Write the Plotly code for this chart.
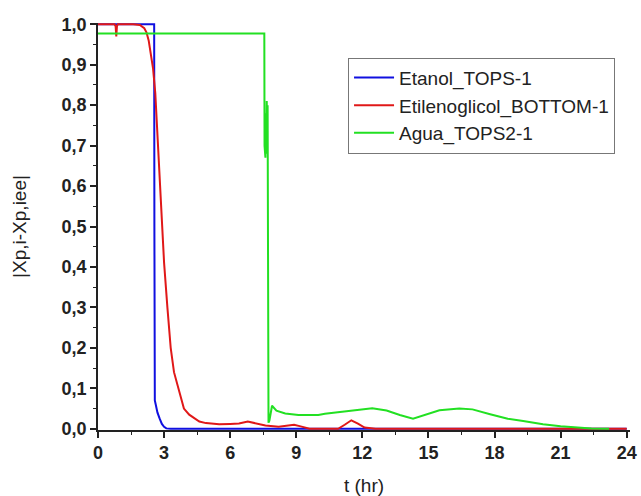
import plotly.graph_objects as go

# Etanol_TOPS-1 (blue)
t_etanol = [0.0, 2.5, 2.55, 2.56, 2.58, 2.62, 2.7, 2.8, 2.9, 3.0, 3.1, 3.3, 24.0]
x_etanol = [1.0, 1.0, 1.0, 0.50, 0.07, 0.06, 0.04, 0.025, 0.012, 0.005, 0.001, 0.0, 0.0]

# Etilenoglicol_BOTTOM-1 (red)
t_etileno = [0.0, 0.75, 0.8, 0.83, 0.86, 0.9, 1.6, 1.9, 2.1, 2.2, 2.3, 2.4, 2.5,
             2.6, 2.75, 2.9, 3.0, 3.15, 3.3, 3.45, 3.64, 3.9, 4.14, 4.6, 4.9,
             5.5, 6.0, 6.4, 6.8, 7.2, 7.6, 8.2, 8.9, 9.2, 9.6, 10.0, 10.9,
             11.2, 11.5, 11.8, 12.1, 12.6, 24.0]
x_etileno = [1.0, 1.0, 0.995, 0.97, 0.995, 1.0, 1.0, 0.998, 0.99, 0.98, 0.96, 0.93, 0.89,
             0.83, 0.68, 0.52, 0.41, 0.30, 0.20, 0.14, 0.10, 0.05, 0.035, 0.018, 0.014,
             0.011, 0.012, 0.013, 0.018, 0.013, 0.008, 0.005, 0.01, 0.006, 0.0, 0.0, 0.0,
             0.01, 0.021, 0.013, 0.003, 0.0, 0.0]

# Agua_TOPS2-1 (green)
t_agua = [0.0, 7.55, 7.56, 7.6, 7.62, 7.64, 7.66, 7.68, 7.7, 7.72, 7.74, 7.78,
          7.9, 8.1, 8.5, 9.1, 10.0, 10.3, 11.4, 12.45, 13.1, 13.7, 14.3, 14.9,
          15.5, 16.4, 17.0, 17.8, 18.6, 19.3, 20.2, 21.0, 21.7, 22.4, 23.2]
x_agua = [0.977, 0.977, 0.70, 0.67, 0.78, 0.68, 0.81, 0.70, 0.80, 0.50, 0.015, 0.02,
          0.057, 0.045, 0.038, 0.034, 0.034, 0.037, 0.045, 0.051, 0.045, 0.034, 0.025, 0.036,
          0.046, 0.05, 0.048, 0.036, 0.025, 0.019, 0.011, 0.006, 0.003, 0.001, 0.0]

series = [
    ("Etanol_TOPS-1", t_etanol, x_etanol, "#1010e0"),
    ("Etilenoglicol_BOTTOM-1", t_etileno, x_etileno, "#e01818"),
    ("Agua_TOPS2-1", t_agua, x_agua, "#22e022"),
]

fig = go.Figure()
for name, t, x, color in series:
    fig.add_trace(go.Scatter(x=t, y=x, mode="lines", name=name,
                             line=dict(color=color, width=2)))

y_ticks = [i / 10 for i in range(11)]
x_ticks = list(range(0, 25, 3))

fig.update_layout(
    width=641, height=496,
    margin=dict(l=98, r=11, t=23, b=66),
    paper_bgcolor="white", plot_bgcolor="white",
    separators=",.",
    font=dict(family="Liberation Sans, Arial", color="#222"),
    legend=dict(x=0.47, y=0.915, xanchor="left", yanchor="top",
                bordercolor="#777", borderwidth=1, bgcolor="white",
                font=dict(size=19, color="#222"), tracegroupgap=0,
                itemwidth=40),
    showlegend=True,
)
fig.update_xaxes(
    range=[0, 24.15], tickvals=x_ticks, showgrid=False, zeroline=False,
    showline=True, linecolor="#222", linewidth=1.5, automargin=False,
    ticks="outside", ticklen=6, tickwidth=1.5, tickcolor="#222",
    tickfont=dict(size=18, weight="bold", color="#222"),
    minor=dict(dtick=1.5, tick0=0, ticks="outside", ticklen=3, tickcolor="#222", tickwidth=1.2),
    title=dict(text="t (hr)", font=dict(size=19, color="#222"), standoff=20),
)
fig.update_yaxes(
    range=[-0.003, 1.003], tickvals=y_ticks, tickformat=".1f", showgrid=False,
    zeroline=False, showline=True, linecolor="#222", linewidth=1.5, automargin=False,
    ticks="outside", ticklen=6, tickwidth=1.5, tickcolor="#222",
    tickfont=dict(size=18, weight="bold", color="#222"),
    minor=dict(dtick=0.05, tick0=0, ticks="outside", ticklen=3, tickcolor="#222", tickwidth=1.2),
    title=dict(text="|Xp,i-Xp,iee|", font=dict(size=19, color="#222"), standoff=30),
)

fig.write_html("out.html")
